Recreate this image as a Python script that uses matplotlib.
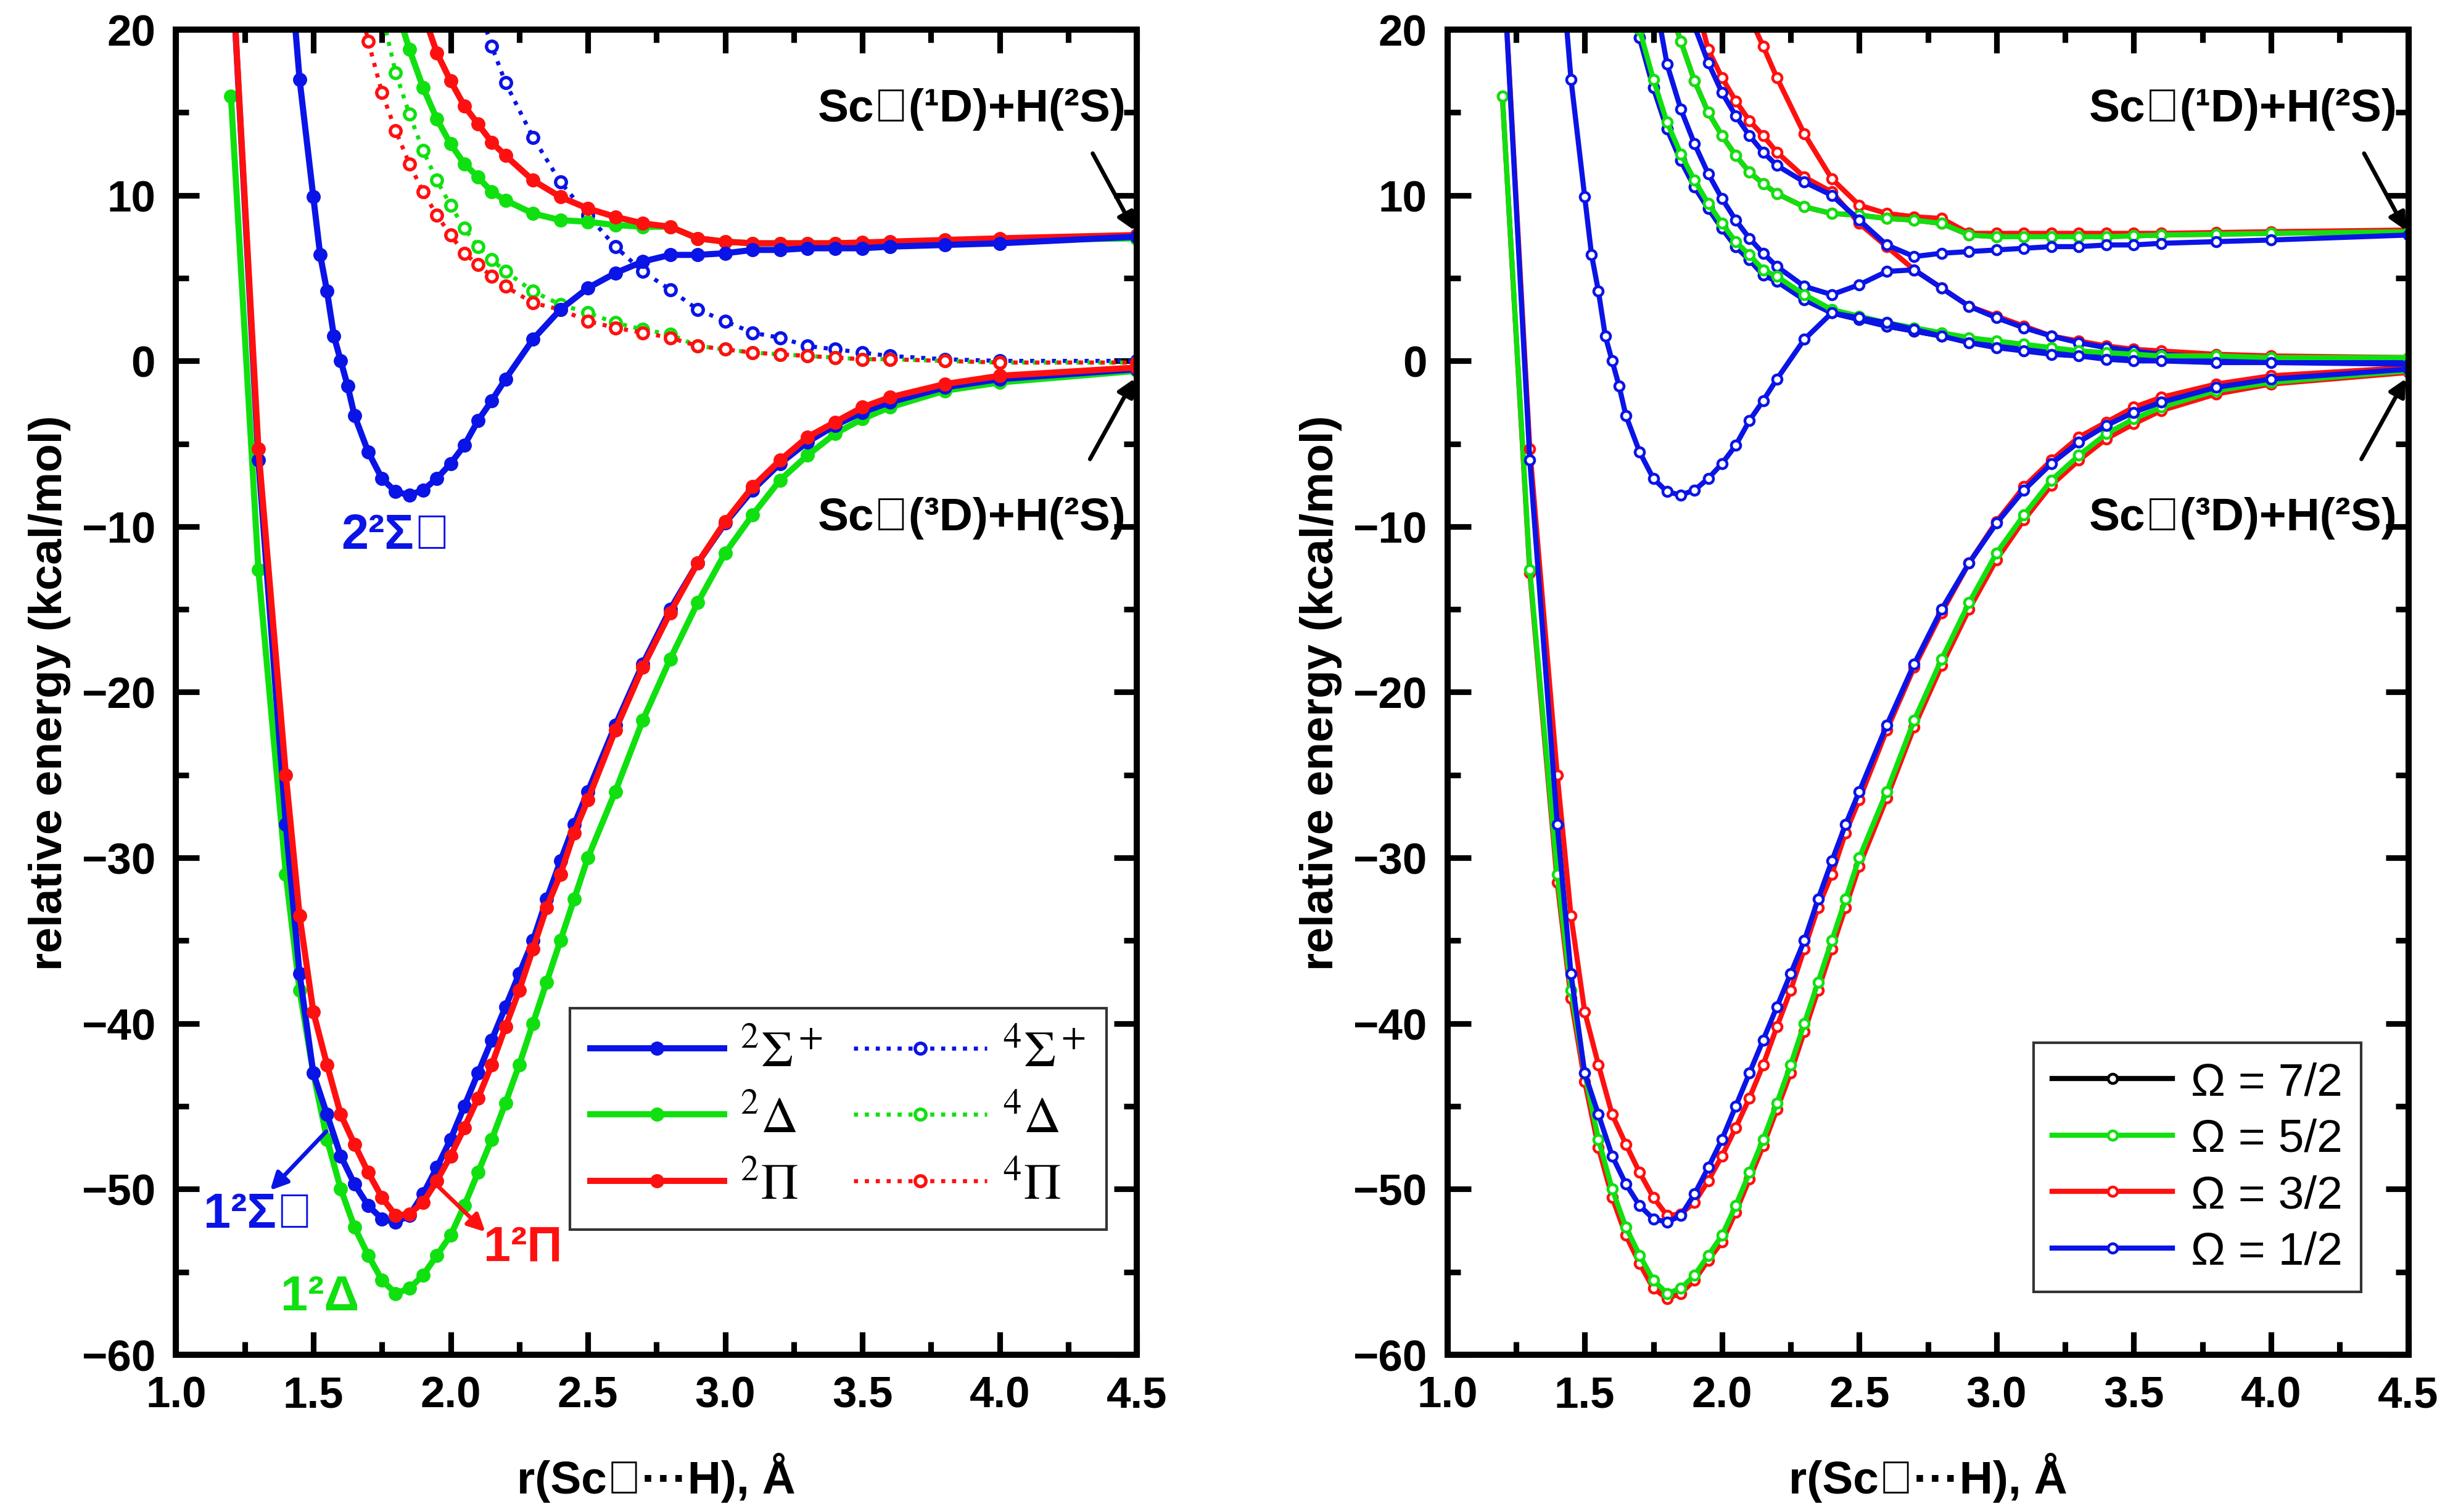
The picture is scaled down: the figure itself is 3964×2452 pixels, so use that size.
import matplotlib
matplotlib.use('Agg')
import matplotlib.pyplot as plt
from matplotlib.ticker import MultipleLocator
from matplotlib.lines import Line2D

plt.rcParams['font.family'] = 'Liberation Sans'
plt.rcParams['mathtext.fontset'] = 'stix'

BLUE = '#0A14E6'
GREEN = '#10E010'
RED = '#FF1010'
BLACK = '#000000'

# ---- bond distances (A) ----
R_MAIN = [1.2, 1.3, 1.4, 1.45, 1.5, 1.55, 1.6, 1.65, 1.7, 1.75, 1.8, 1.85, 1.9, 1.95, 2.0,
          2.05, 2.1, 2.15, 2.2, 2.25, 2.3, 2.35, 2.4, 2.45, 2.5, 2.6, 2.7, 2.8, 2.9, 3.0,
          3.1, 3.2, 3.3, 3.4, 3.5, 3.6, 3.8, 4.0, 4.5]
R_UP = [1.7, 1.75, 1.8, 1.85, 1.9, 1.95, 2.0, 2.05, 2.1, 2.15, 2.2, 2.3, 2.4, 2.5, 2.6,
        2.7, 2.8, 2.9, 3.0, 3.1, 3.2, 3.3, 3.4, 3.5, 3.6, 3.8, 4.0, 4.5]
R_S2 = [1.4, 1.45, 1.5, 1.525, 1.55, 1.575, 1.6, 1.625, 1.65, 1.7, 1.75, 1.8, 1.85, 1.9,
        1.95, 2.0, 2.05, 2.1, 2.15, 2.2, 2.3, 2.4, 2.5, 2.6, 2.7, 2.8, 2.9, 3.0, 3.1, 3.2,
        3.3, 3.4, 3.5, 3.6, 3.8, 4.0, 4.5]
R_Q = [1.6, 1.65, 1.7, 1.75, 1.8, 1.85, 1.9, 1.95, 2.0, 2.05, 2.1, 2.15, 2.2, 2.3, 2.4,
       2.5, 2.6, 2.7, 2.8, 2.9, 3.0, 3.1, 3.2, 3.3, 3.4, 3.5, 3.6, 3.8, 4.0, 4.5]

# ---- left panel: Lambda-S states (kcal/mol) ----
SIG1 = [25, -6, -28, -37, -43, -45.5, -48, -49.7, -51, -51.8, -52, -51.6, -50.3, -48.7, -47,
        -45, -43, -41, -39, -37, -35, -32.5, -30.2, -28, -26, -22, -18.3, -15, -12.2, -9.8,
        -7.8, -6.2, -4.9, -3.9, -3.1, -2.5, -1.6, -1.1, -0.5]
PI1 = [25, -5.3, -25, -33.5, -39.3, -42.5, -45.5, -47.3, -49, -50.5, -51.6, -51.5, -50.8, -49.5, -48,
       -46.3, -44.5, -42.5, -40.2, -38, -35.5, -33, -31, -28.5, -26.5, -22.3, -18.5, -15.2, -12.2, -9.7,
       -7.6, -6, -4.6, -3.7, -2.8, -2.2, -1.4, -0.9, -0.4]
DEL1 = [16, -12.6, -31, -38, -43, -47, -50, -52.3, -54, -55.5, -56.3, -56, -55.2, -54, -52.8,
        -51, -49, -47, -44.8, -42.5, -40, -37.5, -35, -32.5, -30, -26, -21.7, -18, -14.6, -11.6,
        -9.3, -7.2, -5.7, -4.4, -3.5, -2.8, -1.8, -1.3, -0.6]
SIG2 = [27, 17, 9.9, 6.4, 4.2, 1.5, 0, -1.5, -3.3, -5.5, -7.1, -7.9, -8.1, -7.8, -7.1,
        -6.2, -5.1, -3.6, -2.4, -1.1, 1.3, 3.1, 4.4, 5.3, 6.0, 6.4, 6.4, 6.5, 6.7, 6.7,
        6.8, 6.8, 6.8, 6.9, 7.0, 7.1, 7.5]
DEL2 = [30, 25, 21.5, 18.8, 16.5, 14.6, 13.1, 11.9, 11.1, 10.2, 9.7, 8.9, 8.5, 8.4, 8.2,
        8.1, 8.1, 7.4, 7.2, 7.1, 7.1, 7.1, 7.1, 7.1, 7.15, 7.2, 7.3, 7.4]
PI2 = [40, 33, 28, 24.5, 21, 18.6, 16.9, 15.4, 14.3, 13.2, 12.4, 10.9, 9.9, 9.2, 8.7,
       8.3, 8.1, 7.4, 7.2, 7.1, 7.1, 7.1, 7.1, 7.15, 7.2, 7.3, 7.4, 7.6]
Q_SIG = [80, 70, 62, 55, 48, 42, 37, 32, 28, 24.5, 21.5, 19.0, 16.8, 13.5, 10.8,
         8.8, 6.9, 5.4, 4.3, 3.1, 2.4, 1.7, 1.4, 0.9, 0.7, 0.5, 0.3, 0.1, 0.0, 0.0]
Q_DEL = [35, 30, 25, 21, 17.4, 14.9, 12.7, 10.9, 9.4, 8.0, 6.9, 6.1, 5.4, 4.2, 3.4,
         2.9, 2.3, 1.9, 1.6, 0.9, 0.7, 0.5, 0.4, 0.3, 0.2, 0.1, 0.1, 0.0, -0.1, -0.1]
Q_PI = [28, 23, 19.3, 16.2, 13.9, 11.9, 10.2, 8.8, 7.6, 6.5, 5.8, 5.1, 4.5, 3.5, 3.1,
        2.4, 2.0, 1.7, 1.4, 0.9, 0.7, 0.5, 0.4, 0.3, 0.2, 0.1, 0.1, 0.0, -0.1, -0.1]

# ---- right panel: Omega states (kcal/mol) ----
DEL1_32 = [16, -12.8, -31.5, -38.5, -43.5, -47.5, -50.5, -52.8, -54.5, -56, -56.6, -56.3, -55.5, -54.3, -53.2,
           -51.4, -49.4, -47.4, -45.2, -43, -40.5, -38, -35.5, -33, -30.5, -26.4, -22.1, -18.4, -15, -12,
           -9.6, -7.5, -6, -4.7, -3.8, -3, -2, -1.4, -0.7]
Q1 = [35, 26, 19.5, 16.5, 14.0, 12.1, 10.5, 9.2, 8.0, 6.9, 6.1, 5.2, 4.8, 3.7, 2.9,
      2.5, 2.1, 1.8, 1.5, 1.2, 1.0, 0.8, 0.6, 0.4, 0.3, 0.2, 0.1, 0.1, 0.0, 0.0]
Q1_G = [35.5, 26.5, 20, 17, 14.4, 12.5, 10.9, 9.5, 8.3, 7.2, 6.4, 5.5, 5.1, 4.0, 3.1,
        2.7, 2.3, 2.0, 1.7, 1.4, 1.2, 1.0, 0.8, 0.6, 0.5, 0.4, 0.3, 0.3, 0.2, 0.2]
B2 = [50, 38, 29, 22.5, 17.9, 15.2, 13.1, 11.3, 9.8, 8.5, 7.4, 6.5, 5.7, 4.5, 4.0,
      4.6, 5.4, 5.5, 4.4, 3.3, 2.6, 2.0, 1.5, 1.1, 0.8, 0.6, 0.4, 0.2, 0.1, 0.1]
R_CROSS = [45, 38, 32, 27, 22, 18.8, 17.1, 15.7, 14.5, 13.6, 12.6, 11.1, 10.2, 8.3, 6.9,
           5.5, 4.4, 3.3, 2.7, 2.1, 1.5, 1.2, 0.9, 0.7, 0.6, 0.4, 0.3, 0.2]
R_UPPER = [60, 50, 43, 37, 32, 28, 25, 22.8, 20.8, 19, 17.1, 13.7, 11.0, 9.4, 8.9,
           8.7, 8.6, 7.7, 7.7, 7.7, 7.7, 7.7, 7.7, 7.7, 7.7, 7.75, 7.8, 7.9]
D2R = [30, 25, 21.8, 19.3, 16.9, 15.0, 13.6, 12.4, 11.4, 10.7, 10.1, 9.3, 8.9, 8.8, 8.6,
       8.5, 8.3, 7.6, 7.5, 7.5, 7.5, 7.5, 7.5, 7.55, 7.6, 7.65, 7.7, 7.8]
B3 = [40, 33, 27, 23, 20.2, 18.0, 16.2, 14.8, 13.6, 12.6, 11.8, 10.8, 10.0, 8.5, 7.0,
      6.3, 6.5, 6.6, 6.7, 6.8, 6.9, 6.9, 7.0, 7.0, 7.1, 7.2, 7.3, 7.6]
B1 = [27, 17, 9.9, 6.4, 4.2, 1.5, 0, -1.5, -3.3, -5.5, -7.1, -7.9, -8.1, -7.8, -7.1,
      -6.2, -5.1, -3.6, -2.4, -1.1, 1.3, 2.9, 2.6, 2.3, 1.9, 1.5, 1.1, 0.8, 0.6, 0.4,
      0.3, 0.1, 0.0, 0.0, -0.1, -0.1, -0.2]

TICKFONT = dict(fontweight='bold', fontsize=17)


def style_axes(ax):
    ax.set_xlim(1.0, 4.5)
    ax.set_ylim(-60, 20)
    ax.xaxis.set_minor_locator(MultipleLocator(0.25))
    ax.yaxis.set_minor_locator(MultipleLocator(5))
    ax.tick_params(which='both', direction='in', top=True, right=True, width=2.2)
    ax.tick_params(which='major', length=9, pad=8)
    ax.tick_params(which='minor', length=5)
    for s in ax.spines.values():
        s.set_linewidth(2.4)
    ax.set_xticks([1.0, 1.5, 2.0, 2.5, 3.0, 3.5, 4.0, 4.5])
    ax.set_xticklabels(['1.0', '1.5', '2.0', '2.5', '3.0', '3.5', '4.0', '4.5'], **TICKFONT)
    ax.set_yticks([-60, -50, -40, -30, -20, -10, 0, 10, 20])
    ax.set_yticklabels(['\u221260', '\u221250', '\u221240', '\u221230', '\u221220', '\u221210', '0', '10', '20'], **TICKFONT)
    ax.set_xlabel('r(Sc\u207a\u00b7\u00b7\u00b7H), Å', fontsize=18, fontweight='bold', labelpad=14)
    ax.set_ylabel('relative energy (kcal/mol)', fontsize=18, fontweight='bold', labelpad=4)
    txt = dict(fontweight='bold', fontsize=18, ha='right')
    ax.text(4.46, 14.5, 'Sc\u207a(\u00b9D)+H(\u00b2S)', **txt)
    ax.text(4.46, -10.2, 'Sc\u207a(\u00b3D)+H(\u00b2S)', **txt)
    ax.annotate('', xy=(4.5, 7.6), xytext=(4.33, 12.8),
                arrowprops=dict(arrowstyle='-|>', color='black', lw=1.6, mutation_scale=14))
    ax.annotate('', xy=(4.5, -0.8), xytext=(4.32, -6.2),
                arrowprops=dict(arrowstyle='-|>', color='black', lw=1.6, mutation_scale=14))


fig = plt.figure(figsize=(3964 / 300, 2453 / 300), dpi=300)
ax1 = fig.add_axes([0.072, 0.104, 0.393, 0.876])
ax2 = fig.add_axes([0.592, 0.104, 0.393, 0.876])

# left panel
solid = dict(lw=2.4, marker='o', ms=4.5)
dotted = dict(lw=1.6, ls=':', marker='o', ms=4.2, mfc='white', mew=1.3)
ax1.plot(R_Q, Q_SIG, color=BLUE, **dotted)
ax1.plot(R_Q, Q_DEL, color=GREEN, **dotted)
ax1.plot(R_Q, Q_PI, color=RED, **dotted)
ax1.plot(R_UP, DEL2, color=GREEN, **solid)
ax1.plot(R_UP, PI2, color=RED, **solid)
ax1.plot(R_MAIN, DEL1, color=GREEN, **solid)
ax1.plot(R_MAIN, SIG1, color=BLUE, **solid)
ax1.plot(R_MAIN, PI1, color=RED, **solid)
ax1.plot(R_S2, SIG2, color=BLUE, **solid)
style_axes(ax1)

lab = dict(fontweight='bold', fontsize=19)
ax1.text(1.8, -11.3, '2\u00b2\u03a3\u207a', color=BLUE, ha='center', **lab)
ax1.text(1.1, -52.3, '1\u00b2\u03a3\u207a', color=BLUE, **lab)
ax1.text(1.38, -57.3, '1\u00b2\u0394', color=GREEN, **lab)
ax1.text(2.12, -54.3, '1\u00b2\u03a0', color=RED, **lab)
ax1.annotate('', xy=(1.33, -50.3), xytext=(1.56, -46.3),
             arrowprops=dict(arrowstyle='-|>', color=BLUE, lw=1.6, mutation_scale=14))
ax1.annotate('', xy=(2.14, -52.8), xytext=(1.94, -49.6),
             arrowprops=dict(arrowstyle='-|>', color=RED, lw=1.6, mutation_scale=14))

h = [Line2D([], [], color=BLUE, **solid), Line2D([], [], color=GREEN, **solid),
     Line2D([], [], color=RED, **solid), Line2D([], [], color=BLUE, **dotted),
     Line2D([], [], color=GREEN, **dotted), Line2D([], [], color=RED, **dotted)]
labels = [r'$^2\Sigma^+$', r'$^2\Delta$', r'$^2\Pi$', r'$^4\Sigma^+$', r'$^4\Delta$', r'$^4\Pi$']
leg = ax1.legend(h, labels, loc='lower right', bbox_to_anchor=(0.995, 0.075), ncol=2,
                 fontsize=20, frameon=True, fancybox=False, edgecolor='black',
                 handlelength=2.6, columnspacing=0.6, handletextpad=0.3, labelspacing=0.35,
                 borderpad=0.4)
leg.get_frame().set_linewidth(1.0)

# right panel
so = dict(lw=2.0, marker='o', ms=3.6, mfc='white', mew=1.1)
ax2.plot(R_Q, Q1, color=BLACK, **so)
ax2.plot(R_MAIN, DEL1_32, color=RED, **so)
ax2.plot(R_MAIN, DEL1, color=GREEN, **so)
ax2.plot(R_MAIN, PI1, color=RED, **so)
ax2.plot(R_MAIN, SIG1, color=BLUE, **so)
ax2.plot(R_UP, R_UPPER, color=RED, **so)
ax2.plot(R_UP, R_CROSS, color=RED, **so)
ax2.plot(R_UP, D2R, color=RED, **so)
ax2.plot(R_UP, D2R, color=GREEN, **so)
ax2.plot(R_UP, B3, color=BLUE, **so)
ax2.plot(R_Q, B2, color=BLUE, **so)
ax2.plot(R_Q, Q1, color=BLUE, **so)
ax2.plot(R_Q, Q1_G, color=GREEN, **so)
ax2.plot(R_S2, B1, color=BLUE, **so)
style_axes(ax2)

h2 = [Line2D([], [], color=c, **so) for c in (BLACK, GREEN, RED, BLUE)]
leg2 = ax2.legend(h2, ['\u03a9 = 7/2', '\u03a9 = 5/2', '\u03a9 = 3/2', '\u03a9 = 1/2'],
                  loc='lower right', bbox_to_anchor=(0.975, 0.03), fontsize=18,
                  frameon=True, fancybox=False, edgecolor='black', handlelength=2.6,
                  handletextpad=0.4, labelspacing=0.3, borderpad=0.4)
leg2.get_frame().set_linewidth(1.0)

fig.savefig('out.png', dpi=300)
